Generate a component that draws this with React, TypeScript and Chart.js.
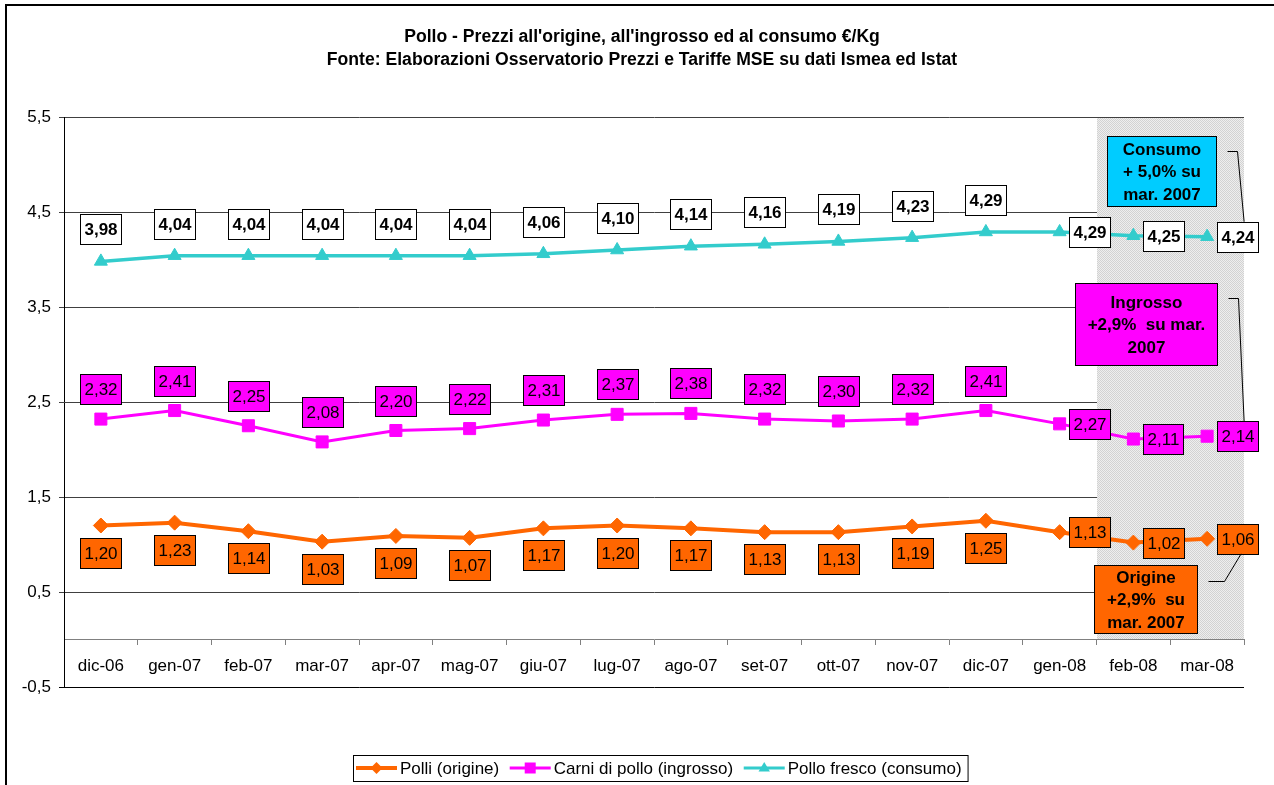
import React, { useEffect, useRef } from "react";
import { Chart, registerables } from "chart.js";

Chart.register(...registerables);

// ---------- data ----------
const CATEGORIES = [
  "dic-06", "gen-07", "feb-07", "mar-07", "apr-07", "mag-07", "giu-07", "lug-07",
  "ago-07", "set-07", "ott-07", "nov-07", "dic-07", "gen-08", "feb-08", "mar-08",
];
const ORIGINE = [1.2, 1.23, 1.14, 1.03, 1.09, 1.07, 1.17, 1.2, 1.17, 1.13, 1.13, 1.19, 1.25, 1.13, 1.02, 1.06];
const INGROSSO = [2.32, 2.41, 2.25, 2.08, 2.2, 2.22, 2.31, 2.37, 2.38, 2.32, 2.3, 2.32, 2.41, 2.27, 2.11, 2.14];
const CONSUMO = [3.98, 4.04, 4.04, 4.04, 4.04, 4.04, 4.06, 4.1, 4.14, 4.16, 4.19, 4.23, 4.29, 4.29, 4.25, 4.24];
const SERIES_NAMES = ["Polli (origine)", "Carni di pollo (ingrosso)", "Pollo fresco (consumo)"];
const Y_TICKS = [-0.5, 0.5, 1.5, 2.5, 3.5, 4.5, 5.5];
const TITLE_LINES = [
  "Pollo - Prezzi all'origine, all'ingrosso ed al consumo €/Kg",
  "Fonte: Elaborazioni Osservatorio Prezzi e Tariffe MSE su dati Ismea ed Istat",
];
const CALLOUT_TEXT = [
  ["Origine", "+2,9%  su", "mar. 2007"],
  ["Ingrosso", "+2,9%  su mar.", "2007"],
  ["Consumo", "+ 5,0% su", "mar. 2007"],
];
const SHADED_FROM = 14; // first shaded category (feb-08)
const RIGHT_LABEL_FROM = 13; // labels placed to the right from gen-08

// ---------- styles ----------
const FONT = '"Liberation Sans", Arial, Helvetica, sans-serif';
const COLORS = ["#FF6600", "#FF00FF", "#33CCCC"];
const CALLOUT_FILL = ["#FF6600", "#FF00FF", "#00CCFF"];
const LABEL_FILL = ["#FF6600", "#FF00FF", "#FFFFFF"];
const LABEL_BOLD = [false, false, true];
const LABEL_DY = [27, -30, -32];
const POINT_STYLES = ["rectRot", "rect", "triangle"];

// callout layout: left offset from chartArea.right, width, top (axis value), height px
const CALLOUT_LAYOUT = [
  { dx: -150, w: 103, topVal: 0.784, h: 68 },
  { dx: -169, w: 142, topVal: 3.753, h: 82 },
  { dx: -137, w: 109, topVal: 5.3, h: 70 },
];

const fmt = (v: number, d: number) => v.toFixed(d).replace(".", ",");

let shadePattern: CanvasPattern | string | null = null;
function getPattern(ctx: CanvasRenderingContext2D) {
  if (shadePattern) return shadePattern;
  const c = document.createElement("canvas");
  c.width = 2;
  c.height = 2;
  const g = c.getContext("2d")!;
  g.fillStyle = "#eeeeee";
  g.fillRect(0, 0, 2, 2);
  g.fillStyle = "#d2d2d2";
  g.fillRect(0, 0, 1, 1);
  g.fillRect(1, 1, 1, 1);
  shadePattern = ctx.createPattern(c, "repeat") || "#dedede";
  return shadePattern;
}

function drawMarker(ctx: CanvasRenderingContext2D, style: string, x: number, y: number, r: number, color: string) {
  ctx.save();
  ctx.fillStyle = color;
  ctx.beginPath();
  if (style === "rectRot") {
    ctx.moveTo(x - r, y);
    ctx.lineTo(x, y - r);
    ctx.lineTo(x + r, y);
    ctx.lineTo(x, y + r);
  } else if (style === "rect") {
    ctx.rect(x - r, y - r, 2 * r, 2 * r);
  } else {
    ctx.moveTo(x, y - r);
    ctx.lineTo(x + r * 0.95, y + r * 0.6);
    ctx.lineTo(x - r * 0.95, y + r * 0.6);
  }
  ctx.closePath();
  ctx.fill();
  ctx.restore();
}

const decorPlugin = {
  id: "decor",
  beforeDraw(chart: any) {
    const ctx = chart.ctx as CanvasRenderingContext2D;
    ctx.save();
    ctx.fillStyle = "#ffffff";
    ctx.fillRect(0, 0, chart.width, chart.height);
    ctx.strokeStyle = "#000";
    ctx.lineWidth = 2;
    ctx.beginPath();
    ctx.moveTo(6, chart.height + 5);
    ctx.lineTo(6, 5);
    ctx.lineTo(chart.width + 5, 5);
    ctx.stroke();
    ctx.fillStyle = "#000";
    ctx.font = `bold 17.6px ${FONT}`;
    ctx.textAlign = "center";
    ctx.textBaseline = "middle";
    ctx.fillText(TITLE_LINES[0], 642, 37);
    ctx.fillText(TITLE_LINES[1], 642, 60);
    ctx.restore();
  },
  beforeDatasetsDraw(chart: any) {
    const ctx = chart.ctx as CanvasRenderingContext2D;
    const x = chart.scales.x;
    const y = chart.scales.y;
    const left = Math.round((x.getPixelForValue(SHADED_FROM - 1) + x.getPixelForValue(SHADED_FROM)) / 2);
    const right = chart.chartArea.right;
    const top = Math.round(y.getPixelForValue(5.5)) + 1;
    const bottom = Math.round(y.getPixelForValue(0)) - 1;
    ctx.save();
    ctx.fillStyle = getPattern(ctx) as any;
    ctx.fillRect(left, top, right - left, bottom - top);
    ctx.restore();
  },
  afterDatasetsDraw(chart: any) {
    const ctx = chart.ctx as CanvasRenderingContext2D;
    ctx.save();
    chart.data.datasets.forEach((ds: any, d: number) => {
      const meta = chart.getDatasetMeta(d);
      ctx.font = `${LABEL_BOLD[d] ? "bold " : ""}17px ${FONT}`;
      ctx.textAlign = "center";
      ctx.textBaseline = "middle";
      meta.data.forEach((pt: any, i: number) => {
        const txt = fmt(ds.data[i], 2);
        const tw = ctx.measureText(txt).width;
        const w = Math.round(tw + 8);
        const h = 30;
        let cx: number, cy: number;
        if (i >= RIGHT_LABEL_FROM) {
          cx = pt.x + 30;
          cy = pt.y;
        } else {
          cx = pt.x;
          cy = pt.y + LABEL_DY[d];
        }
        const bx = Math.round(cx - w / 2) + 0.5;
        const by = Math.round(cy - h / 2) + 0.5;
        ctx.fillStyle = LABEL_FILL[d];
        ctx.fillRect(bx, by, w, h);
        ctx.strokeStyle = "#000";
        ctx.lineWidth = 1;
        ctx.strokeRect(bx, by, w, h);
        ctx.fillStyle = "#000";
        ctx.fillText(txt, bx + w / 2, by + h / 2 + 1);
      });
    });
    ctx.restore();
  },
  afterDraw(chart: any) {
    const ctx = chart.ctx as CanvasRenderingContext2D;
    const y = chart.scales.y;
    const area = chart.chartArea;
    ctx.save();
    // callouts
    CALLOUT_LAYOUT.forEach((c, d) => {
      const left = Math.round(area.right + c.dx) + 0.5;
      const top = Math.round(y.getPixelForValue(c.topVal)) + 0.5;
      ctx.fillStyle = CALLOUT_FILL[d];
      ctx.fillRect(left, top, c.w, c.h);
      ctx.strokeStyle = "#000";
      ctx.lineWidth = 1;
      ctx.strokeRect(left, top, c.w, c.h);
      ctx.fillStyle = "#000";
      ctx.font = `bold 17px ${FONT}`;
      ctx.textAlign = "center";
      ctx.textBaseline = "middle";
      const lines = CALLOUT_TEXT[d];
      const lh = 22.5;
      const cy = top + c.h / 2;
      lines.forEach((ln, k) => {
        ctx.fillText(ln, left + c.w / 2, cy + (k - (lines.length - 1) / 2) * lh + 1);
      });
      // leader line to last label
      const meta = chart.getDatasetMeta(d);
      const pt = meta.data[meta.data.length - 1];
      const lx = pt.x + 30;
      ctx.beginPath();
      ctx.strokeStyle = "#000";
      ctx.lineWidth = 1;
      const right = left + c.w;
      if (d === 0) {
        const ly = top + 16;
        ctx.moveTo(right + 11, ly);
        ctx.lineTo(right + 27, ly);
        ctx.lineTo(lx + 4, pt.y + 15);
      } else {
        const ly = top + 15;
        ctx.moveTo(right + 11, ly);
        ctx.lineTo(right + 21, ly);
        ctx.lineTo(lx + 7, pt.y - 15);
      }
      ctx.stroke();
    });
    // legend
    ctx.font = `17px ${FONT}`;
    ctx.textAlign = "left";
    ctx.textBaseline = "middle";
    const legY = 768;
    const lineLen = 41;
    const gap = 10.5;
    const widths = SERIES_NAMES.map((n) => ctx.measureText(n).width);
    const total = widths.reduce((a, b) => a + b, 0) + SERIES_NAMES.length * (lineLen + 3) + (SERIES_NAMES.length - 1) * gap;
    const boxLeft = 353;
    let xx = boxLeft + 3;
    ctx.fillStyle = "#fff";
    ctx.fillRect(boxLeft + 0.5, 755.5, total + 9, 26);
    ctx.strokeStyle = "#000";
    ctx.lineWidth = 1;
    ctx.strokeRect(boxLeft + 0.5, 755.5, total + 9, 26);
    SERIES_NAMES.forEach((name, d) => {
      ctx.strokeStyle = COLORS[d];
      ctx.lineWidth = d === 0 ? 4 : 3;
      ctx.beginPath();
      ctx.moveTo(xx, legY);
      ctx.lineTo(xx + lineLen, legY);
      ctx.stroke();
      const r = d === 0 ? 6 : d === 1 ? 5.5 : 6;
      drawMarker(ctx, POINT_STYLES[d], xx + lineLen / 2, legY, r, COLORS[d]);
      ctx.fillStyle = "#000";
      ctx.fillText(name, xx + lineLen + 3, legY + 1);
      xx += lineLen + 3 + widths[d] + gap;
    });
    ctx.restore();
  },
};

export default function App() {
  const ref = useRef<HTMLCanvasElement | null>(null);
  useEffect(() => {
    if (!ref.current) return;
    const series = [ORIGINE, INGROSSO, CONSUMO];
    const chart = new Chart(ref.current, {
      type: "line",
      data: {
        labels: CATEGORIES,
        datasets: series.map((data, d) => ({
          label: SERIES_NAMES[d],
          data,
          borderColor: COLORS[d],
          backgroundColor: COLORS[d],
          borderWidth: d === 0 ? 4 : d === 1 ? 3 : 3.5,
          pointStyle: POINT_STYLES[d] as any,
          pointRadius: d === 0 ? 7.5 : d === 1 ? 8.5 : 7.5,
          pointBackgroundColor: COLORS[d],
          pointBorderColor: COLORS[d],
          pointBorderWidth: 1,
          tension: 0,
          fill: false,
        })),
      },
      options: {
        responsive: false,
        animation: false,
        devicePixelRatio: 1,
        layout: { padding: { left: 0, right: 30, top: 117, bottom: 98 } },
        plugins: {
          legend: { display: false },
          title: { display: false },
          tooltip: { enabled: false },
        },
        scales: {
          x: {
            type: "category",
            position: { y: 0 } as any,
            offset: true,
            grid: {
              display: true,
              drawOnChartArea: false,
              drawTicks: true,
              tickLength: 5,
              offset: true,
              color: "#808080",
            },
            border: { display: true, color: "#808080", width: 1 },
            ticks: {
              color: "#000",
              font: { family: FONT, size: 17 },
              padding: 12,
              maxRotation: 0,
              autoSkip: false,
            },
          },
          y: {
            type: "linear",
            min: -0.5,
            max: 5.5,
            afterBuildTicks: (s: any) => {
              s.ticks = Y_TICKS.map((v) => ({ value: v }));
            },
            afterFit: (s: any) => {
              s.width = 64;
            },
            grid: {
              color: (c: any) => (c.tick && c.tick.value === -0.5 ? "#000" : "#404040"),
              tickLength: 5,
              drawTicks: true,
            },
            border: { display: true, color: "#000", width: 1 },
            ticks: {
              callback: (v: any) => fmt(Number(v), 1),
              color: "#000",
              font: { family: FONT, size: 17 },
              padding: 8,
            },
          },
        },
      },
      plugins: [decorPlugin],
    });
    return () => chart.destroy();
  }, []);
  return (
    <div style={{ position: "absolute", left: 0, top: 0, width: 1274, height: 785 }}>
      <canvas ref={ref} width={1274} height={785} style={{ width: 1274, height: 785, display: "block" }} />
    </div>
  );
}
